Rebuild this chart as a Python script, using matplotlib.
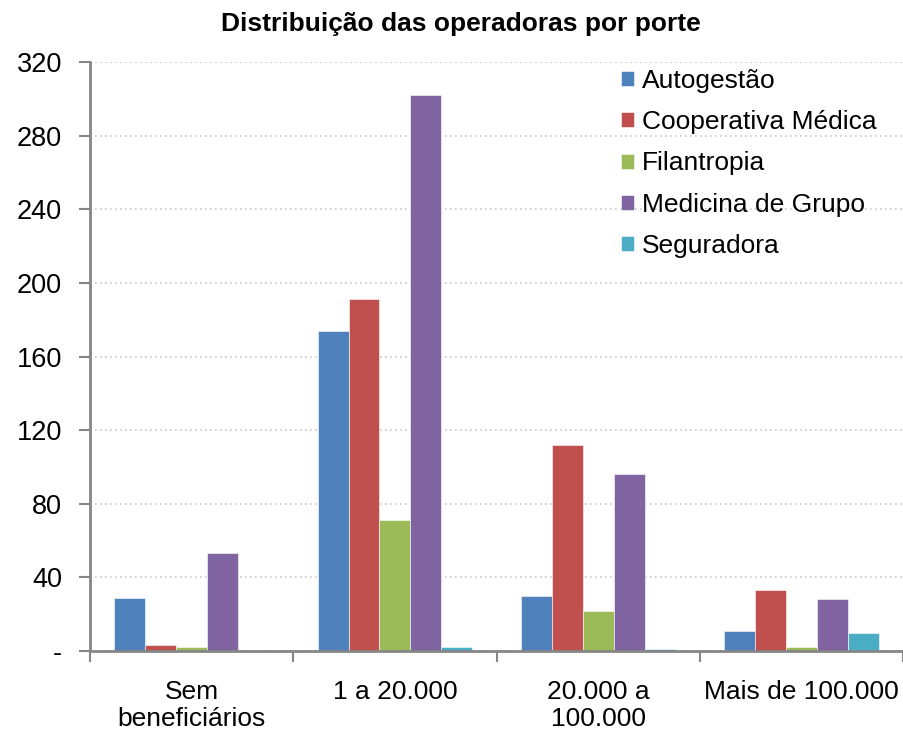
import numpy as np
import matplotlib.pyplot as plt
from matplotlib.ticker import FixedLocator

plt.rcParams["font.family"] = ["Liberation Sans", "DejaVu Sans"]

categories = ["Sem\nbeneficiários", "1 a 20.000", "20.000 a\n100.000", "Mais de 100.000"]
series_names = ["Autogestão", "Cooperativa Médica", "Filantropia", "Medicina de Grupo", "Seguradora"]
autogestao = [29, 174, 30, 11]
cooperativa = [3, 191, 112, 33]
filantropia = [2, 71, 22, 2]
medicina = [53, 302, 96, 28]
seguradora = [0, 2, 1, 10]
y_ticks = [0, 40, 80, 120, 160, 200, 240, 280, 320]
y_labels = ["-", "40", "80", "120", "160", "200", "240", "280", "320"]

COLORS = ["#4F81BD", "#C0504D", "#9BBB59", "#8064A2", "#4BACC6"]
AXIS_GRAY = "#868686"
FS = 19


def main():
    fig = plt.figure(figsize=(9.04, 7.34), dpi=100)
    ax = fig.add_axes([90 / 904, 1 - 651 / 734, 1 - 90 / 904 - 0.001, (651 - 62) / 734])

    data = [autogestao, cooperativa, filantropia, medicina, seguradora]
    x = np.arange(len(categories))
    width = 0.152
    for i, (vals, name) in enumerate(zip(data, series_names)):
        offset = (i - 2) * width
        ax.bar(x + offset, vals, width, color=COLORS[i], label=name,
               edgecolor="white", linewidth=0.4, zorder=3)

    ax.set_xlim(-0.5, len(categories) - 0.5)
    ax.set_ylim(0, 320)

    # y axis
    ax.set_yticks(y_ticks)
    ax.set_yticklabels(y_labels, fontsize=FS + 0.5)
    ax.tick_params(axis="y", direction="out", length=8, width=1.5, color=AXIS_GRAY, pad=12)
    ax.yaxis.grid(True, linestyle=(0, (1, 2)), color="#c8c8c8", linewidth=1.2, zorder=0)

    # x axis: separators as major ticks, labels on minor ticks
    ax.xaxis.set_major_locator(FixedLocator(np.arange(-0.5, len(categories), 1.0)))
    ax.xaxis.set_major_formatter(plt.NullFormatter())
    ax.xaxis.set_minor_locator(FixedLocator(x))
    labels = ax.set_xticklabels(categories, minor=True, fontsize=FS)
    for lb in labels:
        lb.set_linespacing(1.15)
    ax.tick_params(axis="x", which="major", direction="out", length=8, width=1.5, color=AXIS_GRAY)
    ax.tick_params(axis="x", which="minor", length=0, pad=21)
    ax.xaxis.grid(False)

    for side in ["top", "right"]:
        ax.spines[side].set_visible(False)
    for side in ["left", "bottom"]:
        ax.spines[side].set_color(AXIS_GRAY)
        ax.spines[side].set_linewidth(2)
        ax.spines[side].set_zorder(4)

    fig.text(0.51, 1 - 24 / 734, "Distribuição das operadoras por porte", ha="center", va="center",
             fontsize=FS, fontweight="bold")

    ax.legend(loc="upper left", bbox_to_anchor=(610 / 904, 1 - 58 / 734),
              bbox_transform=fig.transFigure, frameon=False, fontsize=FS,
              handlelength=0.5, handleheight=0.5, handletextpad=0.3,
              labelspacing=0.66, borderaxespad=0)

    fig.savefig("out.png", dpi=100)


if __name__ == "__main__":
    main()
